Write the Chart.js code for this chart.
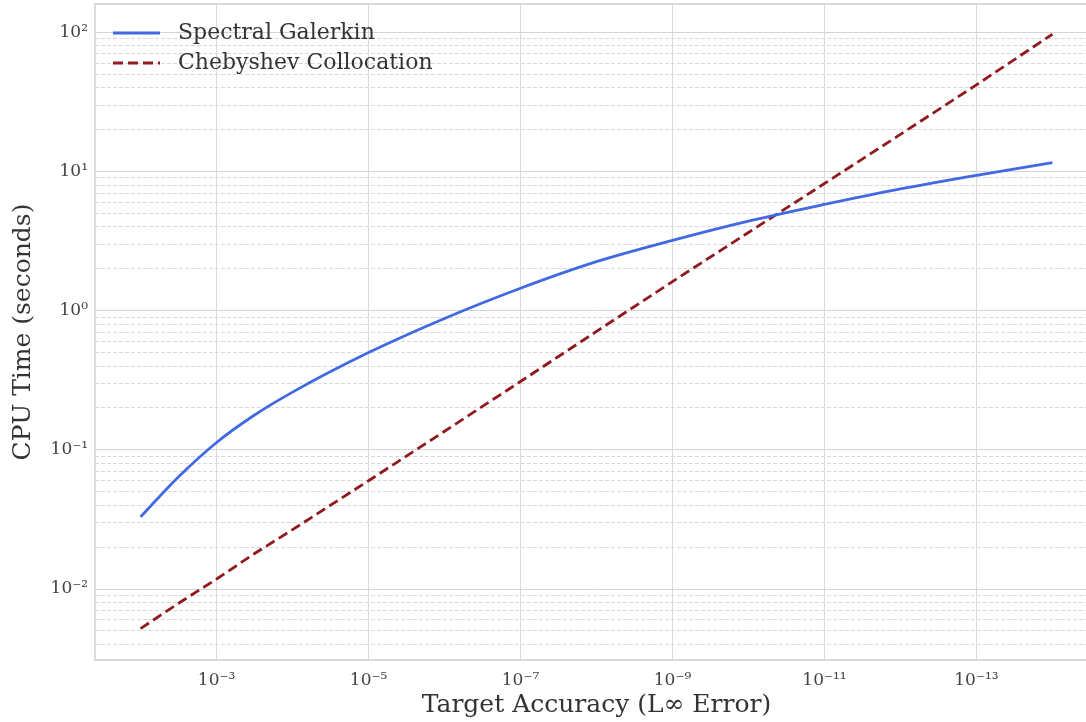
<!DOCTYPE html>
<html>
<head>
<meta charset="utf-8">
<script src="https://cdn.jsdelivr.net/npm/chart.js@4.4.0/dist/chart.umd.min.js"></script>
<style>
html,body{margin:0;padding:0;overflow:hidden;background:#fff;width:1086px;height:722px}
#wrap{position:relative;width:1086px;height:722px;overflow:hidden}
#c{display:block}
</style>
</head>
<body>
<div id="wrap"><canvas id="c" width="1098" height="722"></canvas></div>
<script>
// ---- data ----
const accuracy = [1e-2, 3.16e-3, 1e-3, 3.16e-4, 1e-4, 1e-5, 1e-6, 1e-7, 1e-8, 1e-9, 1e-10, 1e-11, 1e-12, 1e-13, 1e-14];
const galerkinTime = [0.033, 0.064, 0.113, 0.178, 0.26, 0.50, 0.88, 1.45, 2.25, 3.2, 4.4, 5.8, 7.5, 9.4, 11.6];
const collocationTime = [0.0052, 0.0079, 0.0118, 0.018, 0.0267, 0.060, 0.136, 0.31, 0.71, 1.62, 3.65, 8.2, 18.5, 42, 97];
const seriesNames = ['Spectral Galerkin', 'Chebyshev Collocation'];
const xTickValues = [1e-3, 1e-5, 1e-7, 1e-9, 1e-11, 1e-13];
const xTickLabels = ['10\u207B\u00B3', '10\u207B\u2075', '10\u207B\u2077', '10\u207B\u2079', '10\u207B\u00B9\u00B9', '10\u207B\u00B9\u00B3'];
const yTickValues = [1e-2, 1e-1, 1, 10, 100];
const yTickLabels = ['10\u207B\u00B2', '10\u207B\u00B9', '10\u2070', '10\u00B9', '10\u00B2'];
const xTitle = 'Target Accuracy (L\u221E Error)';
const yTitle = 'CPU Time (seconds)';

// ---- axis limits ----
const X_MIN = Math.pow(10, -14.6), X_MAX = Math.pow(10, -1.4);
const Y_MIN = Math.pow(10, -2.51), Y_MAX = Math.pow(10, 2.204);

const yMinorValues = [];
for (let k = -3; k <= 2; k++) for (let m = 2; m <= 9; m++) {
  const v = m * Math.pow(10, k);
  if (v > Y_MIN && v < Y_MAX) yMinorValues.push(v);
}

const FONT = '"DejaVu Serif", "Liberation Serif", serif';

const noPad = s => { s.paddingTop = 0; s.paddingBottom = 0; s.paddingLeft = 0; s.paddingRight = 0; };

const framePlugin = {
  id: 'frame',
  beforeDatasetsDraw(chart) {
    const {ctx, chartArea: a} = chart;
    ctx.save();
    ctx.strokeStyle = '#cccccc';
    ctx.lineWidth = 1.3;
    ctx.beginPath();
    ctx.moveTo(a.right, a.top);
    ctx.lineTo(a.left, a.top);
    ctx.lineTo(a.left, a.bottom);
    ctx.lineTo(a.right, a.bottom);
    ctx.stroke();
    ctx.restore();
  }
};

const legendPlugin = {
  id: 'insideLegend',
  afterDatasetsDraw(chart) {
    const {ctx, chartArea: a} = chart;
    ctx.save();
    chart.data.datasets.forEach((ds, i) => {
      const y = a.top + 29 + i * 30;
      ctx.strokeStyle = ds.borderColor;
      ctx.lineWidth = ds.borderWidth;
      ctx.setLineDash(ds.borderDash || []);
      ctx.beginPath();
      ctx.moveTo(a.left + 18, y);
      ctx.lineTo(a.left + 65, y);
      ctx.stroke();
      ctx.setLineDash([]);
      ctx.fillStyle = '#333';
      ctx.font = '22px ' + FONT;
      ctx.textBaseline = 'middle';
      ctx.fillText(ds.label, a.left + 83, y);
    });
    ctx.restore();
  }
};

new Chart(document.getElementById('c'), {
  type: 'line',
  data: {
    datasets: [
      {
        label: seriesNames[0],
        data: accuracy.map((a, i) => ({x: a, y: galerkinTime[i]})),
        borderColor: '#4169e1',
        borderWidth: 2.8,
        pointRadius: 0,
        cubicInterpolationMode: 'monotone',
        fill: false
      },
      {
        label: seriesNames[1],
        data: accuracy.map((a, i) => ({x: a, y: collocationTime[i]})),
        borderColor: '#901a1e',
        borderWidth: 2.8,
        borderDash: [10, 5],
        pointRadius: 0,
        fill: false
      }
    ]
  },
  options: {
    responsive: false,
    animation: false,
    devicePixelRatio: 1,
    layout: {padding: {top: 4, right: 0, bottom: 0, left: 0}},
    plugins: {legend: {display: false}, tooltip: {enabled: false}},
    scales: {
      x: {
        type: 'logarithmic',
        reverse: true,
        min: X_MIN, max: X_MAX,
        bounds: 'data',
        afterBuildTicks: s => { s.ticks = xTickValues.map(v => ({value: v})); },
        afterFit: s => { s.height = 62; noPad(s); },
        ticks: {
          callback: (v, i) => xTickLabels[i],
          font: {family: FONT, size: 17},
          color: '#444',
          padding: 10,
          maxRotation: 0,
          autoSkip: false
        },
        grid: {color: '#dadada', lineWidth: 1, drawTicks: false},
        border: {display: false},
        title: {display: true, text: xTitle, font: {family: FONT, size: 25}, color: '#333', padding: {top: 0, bottom: 2}}
      },
      yMinor: {
        type: 'logarithmic',
        position: 'left',
        min: Y_MIN, max: Y_MAX,
        bounds: 'data',
        afterBuildTicks: s => { s.ticks = yMinorValues.map(v => ({value: v})); },
        afterFit: s => { s.width = 0; noPad(s); },
        ticks: {display: false},
        grid: {color: '#d9d9d9', lineWidth: 1, drawTicks: false},
        border: {display: false, dash: [4, 2]}
      },
      y: {
        type: 'logarithmic',
        position: 'left',
        min: Y_MIN, max: Y_MAX,
        bounds: 'data',
        afterBuildTicks: s => { s.ticks = yTickValues.map(v => ({value: v})); },
        afterFit: s => { s.width = 95; noPad(s); },
        ticks: {
          callback: (v, i) => yTickLabels[i],
          font: {family: FONT, size: 17},
          color: '#444',
          padding: 7,
          autoSkip: false
        },
        grid: {color: '#d4d4d4', lineWidth: 1, drawTicks: false},
        border: {display: false},
        title: {display: true, text: yTitle, font: {family: FONT, size: 25}, color: '#333', padding: {top: 8, bottom: 0}}
      }
    }
  },
  plugins: [framePlugin, legendPlugin]
});
</script>
</body>
</html>
